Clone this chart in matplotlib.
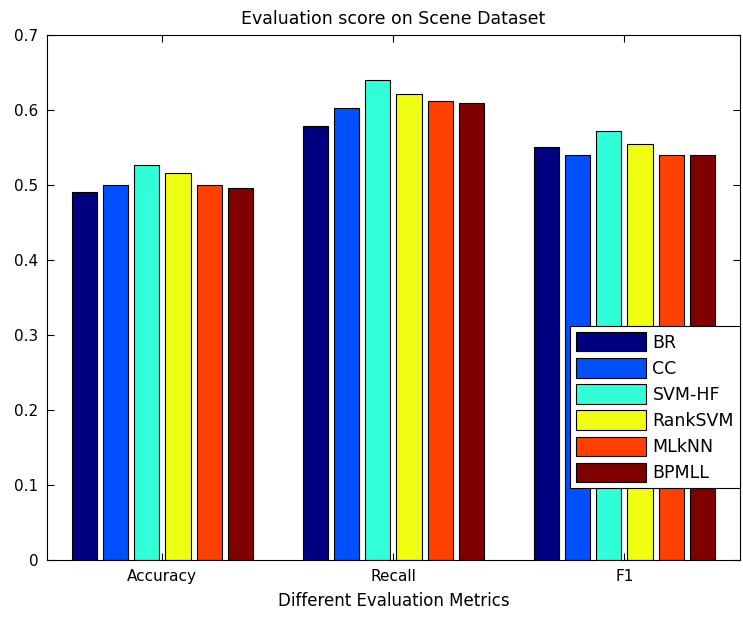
import matplotlib
matplotlib.use("Agg")
import matplotlib.pyplot as plt
import numpy as np

metrics = ["Accuracy", "Recall", "F1"]
methods = ["BR", "CC", "SVM-HF", "RankSVM", "MLkNN", "BPMLL"]
scores = {
    "BR":      [0.491, 0.579, 0.551],
    "CC":      [0.500, 0.603, 0.540],
    "SVM-HF":  [0.527, 0.640, 0.573],
    "RankSVM": [0.516, 0.622, 0.555],
    "MLkNN":   [0.501, 0.613, 0.540],
    "BPMLL":   [0.496, 0.610, 0.540],
}
colours = ["#000080", "#0050ff", "#30ffd8", "#f0ff10", "#ff4000", "#800000"]
yticks = [0, 0.1, 0.2, 0.3, 0.4, 0.5, 0.6, 0.7]

plt.rcParams["font.family"] = ["DejaVu Sans"]
plt.rcParams["font.size"] = 11

fig = plt.figure(figsize=(7.43, 6.19), dpi=100)
ax = fig.add_axes([0.063, 0.095, 0.933, 0.848])

x = np.arange(1, len(metrics) + 1)
pitch = 0.135
width = 0.109
for i, (name, col) in enumerate(zip(methods, colours)):
    ax.bar(x + (i - 2.5) * pitch, scores[name], width=width, color=col,
           edgecolor="black", linewidth=0.8, label=name)

ax.set_xlim(0.5, 3.5)
ax.set_ylim(0, 0.7)
ax.set_xticks(x)
ax.set_xticklabels(metrics)
ax.set_yticks(yticks)
ax.set_yticklabels([f"{v:g}" for v in yticks])
ax.tick_params(direction="in", top=True, right=True, length=5, labelsize=11, pad=6)
ax.set_title("Evaluation score on Scene Dataset", fontsize=12.5, pad=8)
ax.set_xlabel("Different Evaluation Metrics", fontsize=12, labelpad=6)

leg = ax.legend(loc="lower right", bbox_to_anchor=(1.0, 0.137), borderaxespad=0,
                fancybox=False, framealpha=1, edgecolor="black", fontsize=12.5,
                handlelength=4.0, handleheight=1.35, labelspacing=0.38,
                handletextpad=0.4, borderpad=0.35)
leg.get_frame().set_linewidth(0.8)

fig.savefig("out.png", dpi=100)
